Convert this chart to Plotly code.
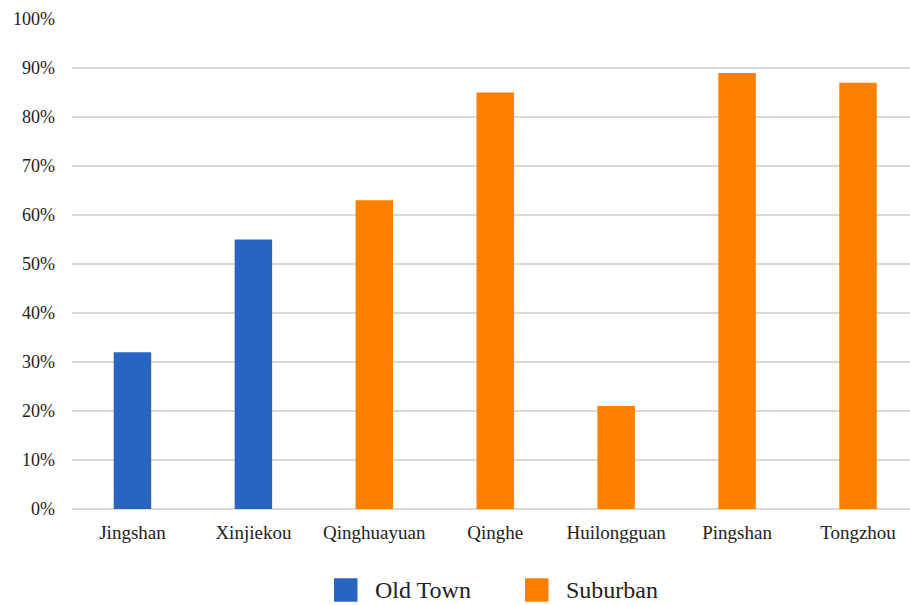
import plotly.graph_objects as go

# Share of respondents by neighbourhood
neighbourhoods = ["Jingshan", "Xinjiekou", "Qinghuayuan", "Qinghe",
                  "Huilongguan", "Pingshan", "Tongzhou"]
old_town_names = ["Jingshan", "Xinjiekou"]
old_town_values = [0.32, 0.55]
suburban_names = ["Qinghuayuan", "Qinghe", "Huilongguan", "Pingshan", "Tongzhou"]
suburban_values = [0.63, 0.85, 0.21, 0.89, 0.87]
legend_labels = ["Old Town", "Suburban"]

y_ticks = [i / 10 for i in range(11)]
y_tick_labels = [f"{i * 10}%" for i in range(11)]

BLUE = "#2965c0"
ORANGE = "#ff8000"
FONT = "Liberation Serif"

W, H = 910, 605
ML, MR, MT, MB = 72, 0, 19, 96

fig = go.Figure()
fig.add_trace(go.Bar(x=old_town_names, y=old_town_values, name=legend_labels[0],
                     marker=dict(color=BLUE, line=dict(width=0)), width=0.31,
                     showlegend=False))
fig.add_trace(go.Bar(x=suburban_names, y=suburban_values, name=legend_labels[1],
                     marker=dict(color=ORANGE, line=dict(width=0)), width=0.31,
                     showlegend=False))

# Legend below the plot with large colour swatches
plot_w = W - ML - MR
plot_h = H - MT - MB


def px_x(px):
    return (px - ML) / plot_w


def px_y(py):
    return (H - MB - py) / plot_h


swatch_left = [334, 525]
swatch_size = 23.5
legend_mid_y = 590
for left, color, label in zip(swatch_left, [BLUE, ORANGE], legend_labels):
    fig.add_shape(type="rect", xref="paper", yref="paper",
                  x0=px_x(left), x1=px_x(left + swatch_size),
                  y0=px_y(legend_mid_y + swatch_size / 2),
                  y1=px_y(legend_mid_y - swatch_size / 2),
                  fillcolor=color, line=dict(width=0))
    fig.add_annotation(xref="paper", yref="paper",
                       x=px_x(left + swatch_size + 15), y=px_y(legend_mid_y),
                       xanchor="left", yanchor="middle", showarrow=False,
                       text=label, font=dict(size=24, family=FONT, color="#222222"))

fig.update_layout(
    width=W, height=H,
    margin=dict(l=ML, r=MR, t=MT, b=MB),
    paper_bgcolor="white", plot_bgcolor="white",
    barmode="overlay",
    showlegend=False,
    font=dict(family=FONT, color="#222222", size=18),
    xaxis=dict(categoryorder="array", categoryarray=neighbourhoods,
               range=[-0.5, 6.43], showgrid=False, showline=False,
               zeroline=False, ticks="", ticklabelstandoff=10,
               tickfont=dict(size=19, family=FONT)),
    yaxis=dict(range=[0, 1.0], tickvals=y_ticks, ticktext=y_tick_labels,
               showgrid=True, gridcolor="#d9d9d9", gridwidth=1.5,
               zeroline=True, zerolinecolor="#d9d9d9", zerolinewidth=1.5,
               showline=False, ticks="", ticklabelstandoff=16,
               tickfont=dict(size=18, family=FONT)),
)

fig.write_html("out.html")
